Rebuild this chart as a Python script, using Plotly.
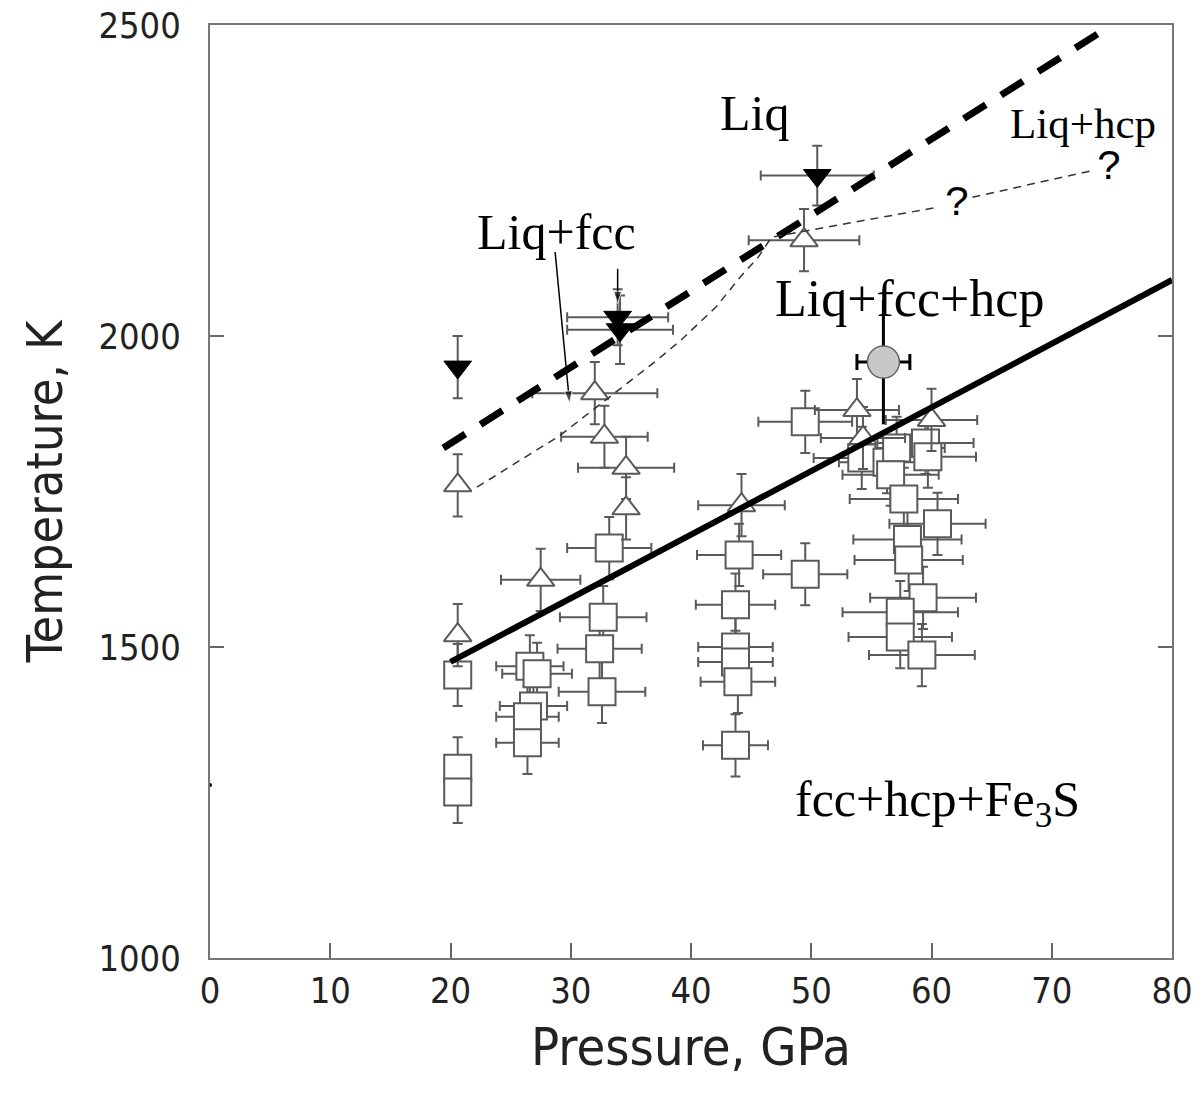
import plotly.graph_objects as go

# ---------------- data ----------------
# open squares: fcc+hcp+Fe3S assemblages
sq_P  = [20.6, 20.6, 20.6, 26.6, 27.2, 26.9, 26.4, 26.4, 32.7, 32.4, 32.6, 33.2,
         44.0, 43.7, 43.7, 43.7, 43.9, 43.7, 49.5, 49.5, 54.2, 56.3, 57.1, 59.5,
         59.7, 56.6, 57.7, 60.5, 58.0, 58.1, 59.3, 57.4, 57.4, 59.2]
sq_T  = [1455, 1305, 1267, 1469, 1457, 1405, 1388, 1346, 1548, 1497, 1428, 1659,
         1648, 1568, 1500, 1476, 1444, 1342, 1617, 1862, 1804, 1797, 1820, 1828,
         1806, 1777, 1738, 1698, 1673, 1640, 1579, 1556, 1516, 1487]
sq_dP = [0, 0, 0, 2.8, 2.9, 2.8, 2.6, 2.6, 3.6, 3.5, 3.6, 3.5,
         3.5, 3.3, 3.1, 3.1, 3.1, 2.7, 3.5, 3.9, 4.0, 4.0, 4.0, 4.0,
         4.0, 4.0, 4.5, 4.0, 4.5, 4.5, 4.4, 4.8, 4.3, 4.4]
sq_dT = [50] * len(sq_P)

# open triangles: Liq+fcc(+hcp)
tri_P  = [20.6, 20.6, 27.5, 32.0, 32.8, 34.6, 34.6, 44.2, 49.4, 53.8, 54.3, 60.0]
tri_T  = [1760, 1519, 1608, 1908, 1838, 1788, 1723, 1728, 2154, 1881, 1836, 1865]
tri_dP = [0, 0, 3.3, 5.2, 3.6, 4.0, 0, 3.6, 4.6, 3.5, 3.5, 3.8]
tri_dT = [50, 50, 50, 50, 50, 50, 50, 50, 50, 50, 50, 50]

# filled down triangles: liquid
liq_P  = [20.6, 33.9, 34.1, 50.5]
liq_T  = [1950, 2030, 2010, 2258]
liq_dP = [0, 4.2, 4.4, 4.7]
liq_dT = [50, 45, 55, 48]

# grey circle
circ_P, circ_T, circ_dP, circ_dT = [56.0], [1958], [2.2], [100]

# phase boundaries
solidus_P = [20, 80]
solidus_T = [1476, 2090]
liquidus_P = [19.4, 75]
liquidus_T = [1820, 2500]
hcp_in_P = [22.2, 29.1, 37.1, 39.2, 42.1, 44.1, 45.6, 46.7, 48.7, 60.5]
hcp_in_T = [1757, 1840, 1960, 1994, 2047, 2095, 2127, 2159, 2166, 2207]
hcp_q_P = [63.4, 73.6]
hcp_q_T = [2223, 2267]

# arrows (tail -> head)
arrow1_P = [28.7, 29.9]
arrow1_T = [2135, 1892]
arrow2_P = [33.9, 33.9]
arrow2_T = [2108, 2052]

x_ticks = [0, 10, 20, 30, 40, 50, 60, 70, 80]
y_ticks = [1000, 1500, 2000, 2500]

# ---------------- figure ----------------
fig = go.Figure()
GRAY = "#5a5a5a"

def err(arr, w=5, color=GRAY, th=2):
    return dict(type="data", array=arr, visible=True, color=color, thickness=th, width=w)

fig.add_trace(go.Scatter(
    x=sq_P, y=sq_T, mode="markers",
    marker=dict(symbol="square", size=27, color="white", line=dict(color=GRAY, width=2)),
    error_x=err(sq_dP), error_y=err(sq_dT), showlegend=False))

fig.add_trace(go.Scatter(
    x=tri_P, y=tri_T, mode="markers",
    marker=dict(symbol="triangle-up", size=24, color="white", line=dict(color=GRAY, width=2)),
    error_x=err(tri_dP), error_y=err(tri_dT), showlegend=False))

fig.add_trace(go.Scatter(
    x=liq_P, y=liq_T, mode="markers",
    marker=dict(symbol="triangle-down", size=24, color="black", line=dict(color="black", width=1)),
    error_x=err(liq_dP), error_y=err(liq_dT), showlegend=False))

fig.add_trace(go.Scatter(
    x=circ_P, y=circ_T, mode="markers",
    marker=dict(symbol="circle", size=32, color="#c8c8c8", line=dict(color="#666666", width=1.5)),
    error_x=err(circ_dP, w=8, color="black", th=3), error_y=err(circ_dT, w=0, color="black", th=3),
    showlegend=False))

fig.add_trace(go.Scatter(x=solidus_P, y=solidus_T, mode="lines",
                         line=dict(color="black", width=6), showlegend=False))
fig.add_trace(go.Scatter(x=liquidus_P, y=liquidus_T, mode="lines",
                         line=dict(color="black", width=7, dash="26px,18px"), showlegend=False))
fig.add_trace(go.Scatter(x=hcp_in_P, y=hcp_in_T, mode="lines",
                         line=dict(color="#333333", width=1.5, dash="8px,6px"), showlegend=False))
fig.add_trace(go.Scatter(x=hcp_q_P, y=hcp_q_T, mode="lines",
                         line=dict(color="#333333", width=1.5, dash="8px,6px"), showlegend=False))

# arrows drawn as line + arrow marker oriented along the segment
for ap, at in [(arrow1_P, arrow1_T), (arrow2_P, arrow2_T)]:
    fig.add_trace(go.Scatter(x=ap, y=at, mode="lines+markers",
                             line=dict(color="black", width=1.5),
                             marker=dict(symbol="arrow", size=[0, 13], color="black",
                                         angleref="previous"),
                             showlegend=False))

# stray dot on the axis
fig.add_trace(go.Scatter(x=[0], y=[1278], mode="markers", cliponaxis=False,
                         marker=dict(size=4, color="black"), showlegend=False))

SERIF = "Liberation Serif, Times New Roman, serif"
MONO = "Liberation Mono, Courier New, monospace"
labels = [
    ("Liq", 45.3, 2359, 50, SERIF),
    ("Liq+hcp", 72.6, 2342, 43, SERIF),
    ("?", 62.2, 2212, 42, MONO),
    ("?", 74.8, 2270, 42, MONO),
    ("Liq+fcc", 28.8, 2167, 50, SERIF),
    ("Liq+fcc+hcp", 58.2, 2061, 52, SERIF),
    ("fcc+hcp+Fe<sub>3</sub>S", 60.5, 1249, 50, SERIF),
]
for txt, x, y, s, fam in labels:
    fig.add_annotation(x=x, y=y, text=txt, showarrow=False,
                       font=dict(family=fam, size=s, color="black"),
                       xanchor="center", yanchor="middle")

SANS = "Liberation Sans Narrow, Arial Narrow, DejaVu Sans Condensed, Liberation Sans, Arial, sans-serif"
fig.update_layout(
    width=1202, height=1095,
    margin=dict(l=210, r=30, t=25, b=137),
    paper_bgcolor="white", plot_bgcolor="white",
    xaxis=dict(range=[0, 80], tickvals=x_ticks, ticks="inside", ticklen=15, tickwidth=1.5,
               tickcolor="#666666", showline=True, linecolor="#777777", linewidth=2,
               mirror=True, showgrid=False, zeroline=False, automargin=False,
               tickfont=dict(family=SANS, size=36, color="#222222"),
               title=dict(text="Pressure, GPa", font=dict(family=SANS, size=52, color="#222222"),
                          standoff=18)),
    yaxis=dict(range=[1000, 2500], tickvals=y_ticks, ticks="inside", ticklen=14, tickwidth=1.5,
               tickcolor="#666666", showline=True, linecolor="#777777", linewidth=2,
               mirror="ticks", showgrid=False, zeroline=False, automargin=False,
               ticklabelstandoff=20,
               tickfont=dict(family=SANS, size=36, color="#222222"),
               title=dict(text="Temperature, K", font=dict(family=SANS, size=50, color="#222222"),
                          standoff=20)),
)

fig.write_html("out.html")
